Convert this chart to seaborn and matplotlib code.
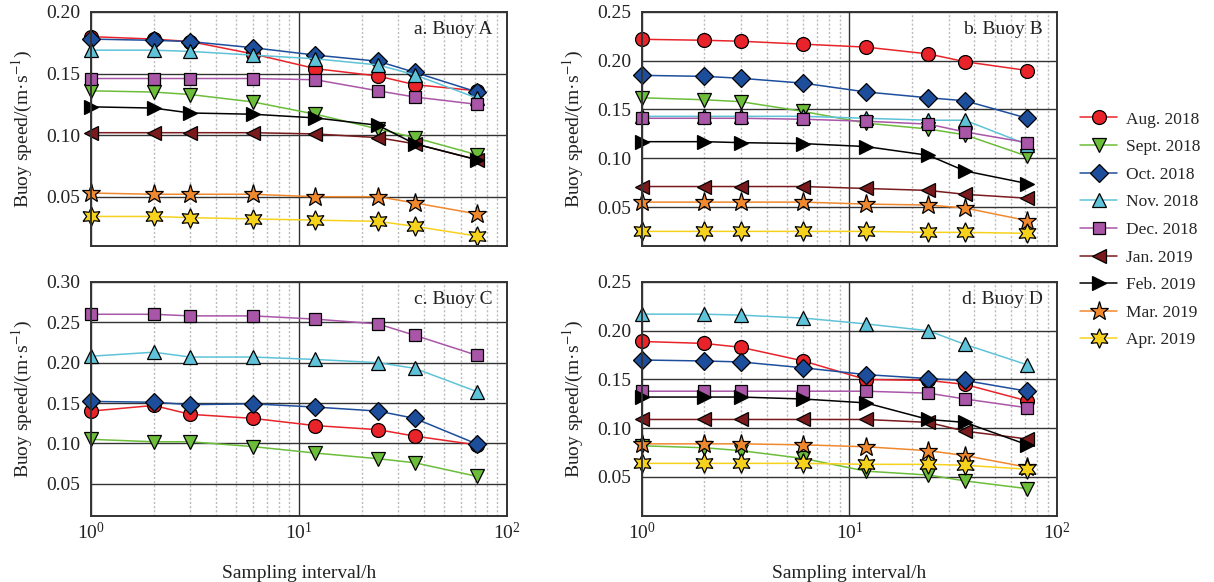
import numpy as np
import pandas as pd
import matplotlib
matplotlib.use("Agg")
import matplotlib.pyplot as plt
import matplotlib.ticker as mticker
import seaborn as sns

sns.set_style("white")
plt.rcParams['font.family'] = ['Liberation Serif', 'DejaVu Serif']
plt.rcParams['mathtext.fontset'] = 'stix'

intervals = [1, 2, 3, 6, 12, 24, 36, 72]
months = ["Aug. 2018", "Sept. 2018", "Oct. 2018", "Nov. 2018", "Dec. 2018",
          "Jan. 2019", "Feb. 2019", "Mar. 2019", "Apr. 2019"]

# Buoy A
a_aug = [0.180, 0.178, 0.176, 0.166, 0.154, 0.148, 0.141, 0.136]
a_sep = [0.136, 0.135, 0.133, 0.127, 0.117, 0.105, 0.098, 0.084]
a_oct = [0.178, 0.177, 0.176, 0.171, 0.165, 0.160, 0.151, 0.135]
a_nov = [0.169, 0.169, 0.168, 0.165, 0.162, 0.157, 0.149, 0.130]
a_dec = [0.146, 0.146, 0.146, 0.146, 0.145, 0.136, 0.131, 0.125]
a_jan = [0.102, 0.102, 0.102, 0.102, 0.101, 0.098, 0.093, 0.080]
a_feb = [0.123, 0.122, 0.118, 0.117, 0.114, 0.108, 0.093, 0.080]
a_mar = [0.053, 0.052, 0.052, 0.052, 0.050, 0.050, 0.045, 0.036]
a_apr = [0.034, 0.034, 0.033, 0.032, 0.031, 0.030, 0.026, 0.018]

# Buoy B
b_aug = [0.222, 0.221, 0.220, 0.217, 0.214, 0.207, 0.199, 0.190]
b_sep = [0.162, 0.160, 0.158, 0.148, 0.136, 0.130, 0.124, 0.102]
b_oct = [0.185, 0.184, 0.182, 0.177, 0.168, 0.162, 0.159, 0.141]
b_nov = [0.143, 0.143, 0.143, 0.143, 0.141, 0.139, 0.139, 0.114]
b_dec = [0.141, 0.141, 0.141, 0.140, 0.138, 0.135, 0.127, 0.116]
b_jan = [0.071, 0.071, 0.071, 0.071, 0.069, 0.067, 0.063, 0.059]
b_feb = [0.117, 0.117, 0.116, 0.115, 0.112, 0.103, 0.087, 0.074]
b_mar = [0.055, 0.055, 0.055, 0.055, 0.053, 0.052, 0.049, 0.036]
b_apr = [0.025, 0.025, 0.025, 0.025, 0.025, 0.024, 0.024, 0.023]

# Buoy C
c_aug = [0.140, 0.147, 0.136, 0.131, 0.122, 0.117, 0.109, 0.098]
c_sep = [0.105, 0.102, 0.102, 0.096, 0.088, 0.081, 0.076, 0.059]
c_oct = [0.152, 0.151, 0.148, 0.149, 0.145, 0.140, 0.131, 0.099]
c_nov = [0.208, 0.213, 0.207, 0.207, 0.204, 0.200, 0.193, 0.164]
c_dec = [0.260, 0.260, 0.258, 0.258, 0.254, 0.248, 0.234, 0.209]

# Buoy D
d_aug = [0.189, 0.187, 0.183, 0.169, 0.150, 0.149, 0.145, 0.128]
d_sep = [0.082, 0.080, 0.077, 0.069, 0.056, 0.052, 0.046, 0.038]
d_oct = [0.170, 0.169, 0.168, 0.162, 0.155, 0.151, 0.149, 0.138]
d_nov = [0.217, 0.217, 0.216, 0.213, 0.207, 0.200, 0.186, 0.165]
d_dec = [0.138, 0.138, 0.138, 0.138, 0.138, 0.136, 0.130, 0.121]
d_jan = [0.109, 0.109, 0.109, 0.109, 0.109, 0.106, 0.097, 0.089]
d_feb = [0.132, 0.132, 0.132, 0.130, 0.126, 0.109, 0.106, 0.083]
d_mar = [0.084, 0.084, 0.084, 0.083, 0.081, 0.077, 0.072, 0.060]
d_apr = [0.064, 0.064, 0.064, 0.064, 0.063, 0.063, 0.062, 0.058]

panels = [
    ("a. Buoy A", [a_aug, a_sep, a_oct, a_nov, a_dec, a_jan, a_feb, a_mar, a_apr], 0.20),
    ("b. Buoy B", [b_aug, b_sep, b_oct, b_nov, b_dec, b_jan, b_feb, b_mar, b_apr], 0.25),
    ("c. Buoy C", [c_aug, c_sep, c_oct, c_nov, c_dec], 0.30),
    ("d. Buoy D", [d_aug, d_sep, d_oct, d_nov, d_dec, d_jan, d_feb, d_mar, d_apr], 0.25),
]

colors = ["#e8232a", "#6cbd3a", "#1d4e9c", "#5ec3d8", "#a956a8",
          "#7a1a1c", "#000000", "#f0882e", "#f7d21d"]
markers = ["o", "v", "D", "^", "s", "<", ">", "*", (6, 1, 0)]
msizes = [10, 10, 9, 10, 9, 10, 10, 14, 14]

W, H = 1214, 582
fig = plt.figure(figsize=(W / 100, H / 100), dpi=100)
rects = [(91, 12, 416, 234), (642, 12, 415, 234),
         (91, 282, 416, 234), (642, 282, 415, 234)]

FS = 14
handles = None
for i, ((title, series, ytop), (x0, y0, w, h)) in enumerate(zip(panels, rects)):
    ax = fig.add_axes([x0 / W, 1 - (y0 + h) / H, w / W, h / H])
    for k, vals in enumerate(series):
        df = pd.DataFrame({"interval": intervals, "speed": vals})
        sns.lineplot(data=df, x="interval", y="speed", ax=ax, color=colors[k],
                     marker=markers[k], markersize=msizes[k],
                     markeredgecolor="black", markeredgewidth=0.9,
                     linewidth=1.1, label=months[k], legend=False, clip_on=False)
    ax.set_xscale("log")
    ax.set_xlim(1, 100)
    ax.set_ylim(0.01, ytop)
    ax.yaxis.set_major_locator(mticker.MultipleLocator(0.05))
    ax.yaxis.set_major_formatter(mticker.FormatStrFormatter("%.2f"))
    ax.xaxis.set_major_locator(mticker.LogLocator(base=10, numticks=5))
    ax.xaxis.set_minor_locator(mticker.LogLocator(base=10, subs=np.arange(2, 10), numticks=10))
    ax.xaxis.set_minor_formatter(mticker.NullFormatter())
    ax.grid(True, which="major", axis="both", color="#333333", linewidth=1.0, linestyle="-")
    ax.grid(True, which="minor", axis="x", color="#bbbbbb", linewidth=1.0, linestyle=(0, (1.5, 1.5)))
    ax.set_axisbelow(True)
    for sp in ax.spines.values():
        sp.set_color("#333333")
        sp.set_linewidth(1.4)
    ax.tick_params(axis="y", which="both", length=0, labelsize=FS, pad=8, colors="#222222")
    ax.tick_params(axis="x", which="both", length=0, labelsize=FS, pad=4, colors="#222222")
    ax.set_ylabel("Buoy speed/(m·s$^{-1}$)", fontsize=FS, color="#222222", labelpad=8)
    if i < 2:
        ax.set_xticklabels([])
        ax.set_xlabel("")
    else:
        ax.set_xlabel("Sampling interval/h", fontsize=FS, color="#222222", labelpad=16)
    ax.text(0.965, 0.925, title, transform=ax.transAxes, ha="right", va="center",
            fontsize=FS, color="#222222")
    if i == 0:
        handles, labels = ax.get_legend_handles_labels()

fig.legend(handles, labels, loc="center left", bbox_to_anchor=(0.877, 0.605),
           frameon=False, fontsize=12.5, labelspacing=0.66, handlelength=2.1,
           handletextpad=0.55)

fig.savefig("out.png", dpi=100)
